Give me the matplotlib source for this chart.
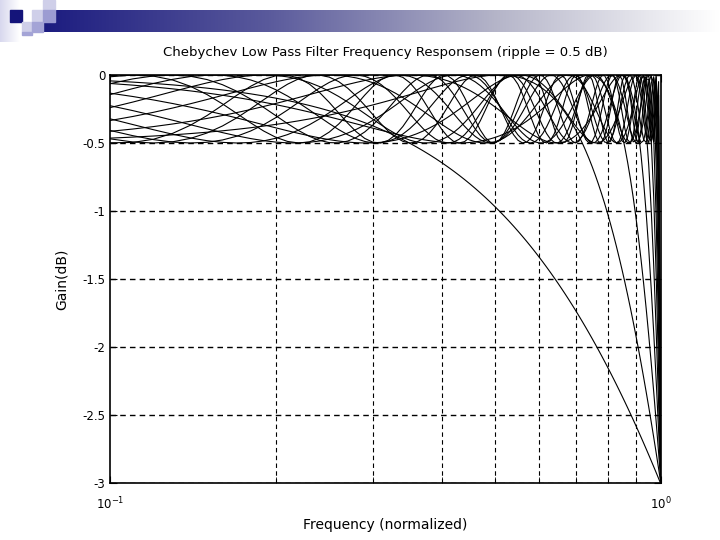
import numpy as np
import matplotlib
matplotlib.use("Agg")
import matplotlib.pyplot as plt
from matplotlib.patches import Rectangle
from matplotlib.ticker import FixedLocator, FixedFormatter, NullFormatter

plt.rcParams['font.family'] = ['DejaVu Sans']
plt.rcParams['axes.unicode_minus'] = False

ripple_db = 0.5
orders = list(range(1, 16))
freq_step = 0.01          # rzadka siatka liniowa jak w oryginale
freq_min, freq_max = 0.1, 1.0

y_ticks = [0, -0.5, -1, -1.5, -2, -2.5, -3]
y_labels = ['0', '-0.5', '-1', '-1.5', '-2', '-2.5', '-3']
x_minor = [0.2, 0.3, 0.4, 0.5, 0.6, 0.7, 0.8, 0.9]

title = 'Chebychev Low Pass Filter Frequency Responsem (ripple = 0.5 dB)'
xlabel = 'Frequency (normalized)'
ylabel = 'Gain(dB)'

eps = np.sqrt(10 ** (ripple_db / 10) - 1)
w = np.arange(freq_step, freq_max + freq_step / 2, freq_step)


def cheb_gain(n):
    # czestotliwosc znormalizowana do punktu -3 dB
    k = np.cosh(np.arccosh(1 / eps) / n)
    om = w * k
    t = np.where(om <= 1, np.cos(n * np.arccos(np.clip(om, -1, 1))),
                 np.cosh(n * np.arccosh(np.maximum(om, 1))))
    return -10 * np.log10(1 + eps ** 2 * t ** 2)


fig = plt.figure(figsize=(7.2, 5.4), dpi=100)

# ozdobnik slajdu: pasek z gradientem i kwadraty
bar = fig.add_axes([43 / 720, 1 - 32 / 540, 1 - 43 / 720, 22 / 540])
grad = np.linspace(0, 1, 256)[None, :]
cmap = matplotlib.colors.LinearSegmentedColormap.from_list(
    'bar', ['#1c1c80', '#5a5a9c', '#b4b4c8', '#ffffff'])
bar.imshow(grad, aspect='auto', cmap=cmap, extent=[0, 1, 0, 1])
bar.axis('off')

side = fig.add_axes([0, 1 - 42 / 540, 20 / 720, 42 / 540])
side.imshow(np.linspace(0, 1, 64)[None, :], aspect='auto',
            cmap=matplotlib.colors.LinearSegmentedColormap.from_list('s', ['#d8d8ee', '#ffffff']))
side.axis('off')

squares = [
    ((10, 10), 12, 12, '#14147a'),
    ((32, 10), 11, 12, '#cfcfe9'),
    ((43, 0), 12, 10, '#cfcfe9'),
    ((43, 10), 12, 12, '#9c9cd2'),
    ((22, 22), 10, 10, '#cfcfe9'),
    ((32, 22), 11, 10, '#a4a4d6'),
    ((22, 32), 10, 3, '#a4a4d6'),
]
for (x0, y0), sw, sh, col in squares:
    fig.patches.append(Rectangle((x0 / 720, 1 - (y0 + sh) / 540), sw / 720, sh / 540,
                                 transform=fig.transFigure, color=col, zorder=5))

ax = fig.add_axes([110 / 720, 1 - 483 / 540, 551 / 720, 408 / 540])
for n in orders:
    ax.plot(w, cheb_gain(n), color='black', lw=0.8)

ax.set_xscale('log')
ax.set_xlim(freq_min, freq_max)
ax.set_ylim(-3, 0)
ax.yaxis.set_major_locator(FixedLocator(y_ticks))
ax.yaxis.set_major_formatter(FixedFormatter(y_labels))
ax.xaxis.set_minor_locator(FixedLocator(x_minor))
ax.xaxis.set_minor_formatter(NullFormatter())

ax.grid(True, which='major', axis='y', ls=(0, (4, 3)), color='black', lw=1.0)
ax.grid(True, which='minor', axis='x', ls=(0, (4, 3)), color='black', lw=0.8)
ax.tick_params(which='both', direction='in', top=True, right=True, labelsize=8.5)
ax.tick_params(which='major', length=5)
ax.tick_params(which='minor', length=4)
ax.tick_params(axis='x', which='major', pad=9)
for s in ax.spines.values():
    s.set_linewidth(1.2)

ax.set_title(title, fontsize=9.5, pad=14)
ax.set_xlabel(xlabel, fontsize=10, labelpad=4)
ax.set_ylabel(ylabel, fontsize=10, labelpad=10)

fig.savefig('out.png', dpi=100)
